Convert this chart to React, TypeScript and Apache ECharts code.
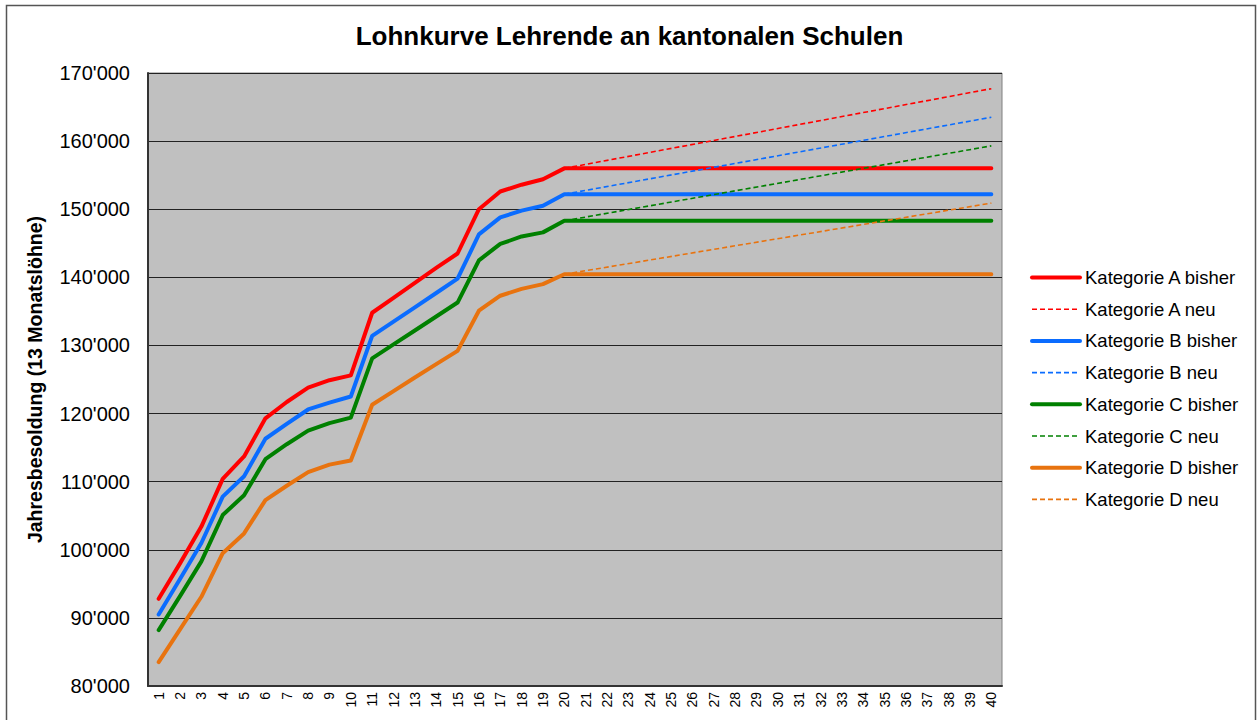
import React, { useEffect, useRef } from "react";
import * as echarts from "echarts";

const categories = ["1","2","3","4","5","6","7","8","9","10","11","12","13","14","15","16","17","18","19","20","21","22","23","24","25","26","27","28","29","30","31","32","33","34","35","36","37","38","39","40"];

const aBisher = [92800, 98000, 103400, 110400, 113700, 119300, 121700, 123800, 124900, 125600, 134800, 137000, 139200, 141400, 143500, 150000, 152600, 153600, 154400, 156000, 156000, 156000, 156000, 156000, 156000, 156000, 156000, 156000, 156000, 156000, 156000, 156000, 156000, 156000, 156000, 156000, 156000, 156000, 156000, 156000];
const bBisher = [90500, 95700, 101000, 107800, 110800, 116300, 118500, 120600, 121600, 122500, 131400, 133500, 135600, 137700, 139800, 146300, 148800, 149800, 150500, 152200, 152200, 152200, 152200, 152200, 152200, 152200, 152200, 152200, 152200, 152200, 152200, 152200, 152200, 152200, 152200, 152200, 152200, 152200, 152200, 152200];
const cBisher = [88200, 93200, 98300, 105100, 108000, 113300, 115500, 117500, 118600, 119400, 128100, 130150, 132200, 134250, 136300, 142500, 144900, 146000, 146600, 148300, 148300, 148300, 148300, 148300, 148300, 148300, 148300, 148300, 148300, 148300, 148300, 148300, 148300, 148300, 148300, 148300, 148300, 148300, 148300, 148300];
const dBisher = [83500, 88300, 93100, 99500, 102400, 107300, 109400, 111400, 112500, 113100, 121300, 123300, 125300, 127250, 129200, 135100, 137300, 138300, 139000, 140450, 140450, 140450, 140450, 140450, 140450, 140450, 140450, 140450, 140450, 140450, 140450, 140450, 140450, 140450, 140450, 140450, 140450, 140450, 140450, 140450];

// "neu" lines: known points at step 20 and step 40 (straight line between them)
const aNeuStart = 156000, aNeuEnd = 167700;
const bNeuStart = 152200, bNeuEnd = 163500;
const cNeuStart = 148300, cNeuEnd = 159300;
const dNeuStart = 140450, dNeuEnd = 150900;

const seriesNames = [
  "Kategorie A bisher", "Kategorie A neu",
  "Kategorie B bisher", "Kategorie B neu",
  "Kategorie C bisher", "Kategorie C neu",
  "Kategorie D bisher", "Kategorie D neu",
];
const colors = ["#FF0000", "#0A6CFF", "#008000", "#E8730F"];

const yMin = 80000, yMax = 170000, yStep = 10000;

function neuData(start: number, end: number) {
  return categories.map((c) => (c === "20" ? start : c === "40" ? end : null));
}

const FONT = 'Arial, "Liberation Sans", sans-serif';

export default function App() {
  const ref = useRef<HTMLDivElement>(null);
  useEffect(() => {
    if (!ref.current) return;
    const chart = echarts.init(ref.current, null, { renderer: "svg" });
    const bisher = [aBisher, bBisher, cBisher, dBisher];
    const neu = [
      neuData(aNeuStart, aNeuEnd),
      neuData(bNeuStart, bNeuEnd),
      neuData(cNeuStart, cNeuEnd),
      neuData(dNeuStart, dNeuEnd),
    ];
    const series: any[] = [];
    for (let i = 0; i < 4; i++) {
      series.push({
        name: seriesNames[i * 2],
        type: "line",
        data: bisher[i],
        symbol: "none",
        color: colors[i],
        lineStyle: { width: 4, color: colors[i], cap: "round", join: "round" },
      });
      series.push({
        name: seriesNames[i * 2 + 1],
        type: "line",
        data: neu[i],
        connectNulls: true,
        symbol: "none",
        color: colors[i],
        lineStyle: { width: 1.6, color: colors[i], type: [5, 3] },
      });
    }
    chart.setOption({
      animation: false,
      backgroundColor: "#ffffff",
      textStyle: { fontFamily: FONT },
      title: {
        text: "Lohnkurve Lehrende an kantonalen Schulen",
        left: "center",
        top: 23,
        padding: 0,
        textStyle: { fontFamily: FONT, fontSize: 26, fontWeight: "bold", color: "#000" },
      },
      graphic: [
        {
          type: "rect",
          shape: { x: 6.5, y: 5.5, width: 1249, height: 730 },
          style: { fill: "none", stroke: "#555", lineWidth: 1.5 },
          silent: true,
        },
      ],
      legend: {
        orient: "vertical",
        left: 1030,
        top: 268,
        padding: 0,
        itemWidth: 48,
        itemHeight: 14,
        itemGap: 12.7,
        itemStyle: { opacity: 0 },
        textStyle: { fontFamily: FONT, fontSize: 18.5, color: "#000", lineHeight: 19 },
        data: seriesNames.map((n, idx) => ({
          name: n,
          lineStyle: idx % 2 === 0 ? { width: 4 } : { width: 1.6, type: [5, 3] },
        })),
      },
      grid: {
        left: 148,
        top: 73,
        right: 257,
        bottom: 34,
        show: true,
        backgroundColor: "#C0C0C0",
        borderColor: "#808080",
        borderWidth: 1,
      },
      xAxis: {
        type: "category",
        data: categories,
        boundaryGap: true,
        axisLine: { show: true, lineStyle: { color: "#333", width: 2 } },
        axisTick: { show: false },
        axisLabel: { rotate: 90, fontSize: 14, color: "#000", margin: 6, interval: 0, fontFamily: FONT },
      },
      yAxis: {
        type: "value",
        min: yMin,
        max: yMax,
        interval: yStep,
        name: "Jahresbesoldung (13 Monatslöhne)",
        nameLocation: "middle",
        nameGap: 103,
        nameTextStyle: { fontFamily: FONT, fontSize: 19.5, fontWeight: "bold", color: "#000" },
        axisLine: { show: true, lineStyle: { color: "#333", width: 2 } },
        axisTick: { show: false },
        splitLine: { show: true, lineStyle: { color: "#222", width: 1 } },
        axisLabel: {
          fontSize: 20,
          color: "#000",
          margin: 18,
          fontFamily: FONT,
          formatter: (v: number) => {
            const s = String(Math.round(v));
            return s.replace(/\B(?=(\d{3})+(?!\d))/g, "'");
          },
        },
      },
      series,
    });
    return () => chart.dispose();
  }, []);
  return (
    <div
      ref={ref}
      style={{ position: "fixed", left: 0, top: 0, width: 1259, height: 720 }}
    />
  );
}
